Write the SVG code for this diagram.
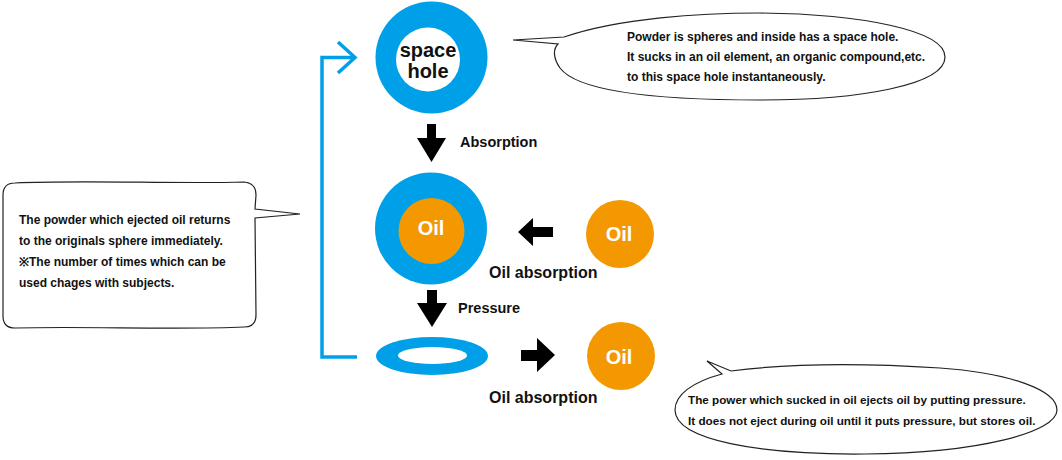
<svg xmlns="http://www.w3.org/2000/svg" width="1062" height="460" viewBox="0 0 1062 460">
<style>
.t{font-family:"Liberation Sans",Arial,sans-serif;font-weight:bold;fill:#111}
.b{font-size:12px}
.b2{font-size:11.7px}
.lbl{font-size:14.5px}
.oa{font-size:16px}
.w{font-family:"Liberation Sans",Arial,sans-serif;font-weight:bold;fill:#fff;font-size:20px;text-anchor:middle}
.bub{fill:#fff;stroke:#222;stroke-width:1.2;stroke-linejoin:miter}
.blue{fill:#00A0E9}
.org{fill:#F39800}
.arr{fill:#000}
.conn{fill:none;stroke:#00A0E9;stroke-width:3.5}
</style>
<g id="connectors">
<path class="conn" d="M357,357 L322,357 L322,57.5 L355,57.5"/>
<path class="conn" d="M338,42 L355,57.5 L338,73"/>
<polygon class="arr" points="427,124 436,124 436,138 446,138 431.5,162 417,138 427,138"/>
<polygon class="arr" points="427,290 437,290 437,303 447,303 432,327 417,303 427,303"/>
<polygon class="arr" points="553,227 533,227 533,218 518,232 533,246 533,237 553,237"/>
<polygon class="arr" points="521,350 537,350 537,338 555,355 537,372 537,361 521,361"/>
</g>
<g id="node-space-hole">
<circle class="blue" cx="431.5" cy="57.5" r="56"/>
<circle cx="428" cy="59.5" r="32" fill="#fff"/>
<text class="t" x="428" y="57" font-size="20" text-anchor="middle">space</text>
<text class="t" x="428" y="78" font-size="20" text-anchor="middle">hole</text>
</g>
<g id="label-absorption"><text class="t lbl" x="460" y="147">Absorption</text></g>
<g id="node-oil-filled">
<circle class="blue" cx="431" cy="228.5" r="56"/>
<circle class="org" cx="431.5" cy="231" r="33"/>
<text class="w" x="431" y="235">Oil</text>
</g>
<g id="node-oil-in">
<circle class="org" cx="620" cy="234" r="34"/>
<text class="w" x="619" y="241">Oil</text>
<text class="t oa" x="489" y="278">Oil absorption</text>
</g>
<g id="label-pressure"><text class="t lbl" x="458" y="313">Pressure</text></g>
<g id="node-pressed">
<ellipse class="blue" cx="432" cy="356" rx="56" ry="19"/>
<ellipse cx="432.5" cy="355.5" rx="34.5" ry="8.5" fill="#fff"/>
</g>
<g id="node-oil-out">
<circle class="org" cx="621" cy="356" r="34"/>
<text class="w" x="619" y="364">Oil</text>
<text class="t oa" x="489" y="403">Oil absorption</text>
</g>
<g id="bubble-top">
<path class="bub" d="M564,37 C620,18 700,13 760,13 C860,14 945,30 945,57 C945,85 860,100 760,100 C660,100 578,92 560,68 C553,58 553,49 558,44 L513,40 Z"/>
<text class="t b" x="627" y="41">Powder is spheres and inside has a space hole.</text>
<text class="t b" x="627" y="61">It sucks in an oil element, an organic compound,etc.</text>
<text class="t b" x="627" y="81">to this space hole instantaneously.</text>
</g>
<g id="bubble-left">
<path class="bub" d="M15,183 C80,180 180,184 244,182 Q256,183 256,195 L255,209 L300,214 L255,218 L256,315 Q256,327 244,327 C180,330 80,326 15,328 Q3,328 3,316 L3,195 Q3,183 15,183 Z"/>
<text class="t b" x="19" y="224">The powder which ejected oil returns</text>
<text class="t b" x="19" y="245">to the originals sphere immediately.</text>
<text class="t b" x="19" y="266">※The number of times which can be</text>
<text class="t b" x="19" y="287">used chages with subjects.</text>
</g>
<g id="bubble-bottom">
<path class="bub" d="M731,371 C800,362 880,364 940,368 C1010,373 1057,390 1057,410 C1057,432 980,453 865,454 C760,455 675,440 675,410 C675,395 692,382 722,374 L707,361 Z"/>
<text class="t b2" x="688" y="404">The power which sucked in oil ejects oil by putting pressure.</text>
<text class="t b2" x="688" y="425">It does not eject during oil until it puts pressure, but stores oil.</text>
</g>
</svg>
